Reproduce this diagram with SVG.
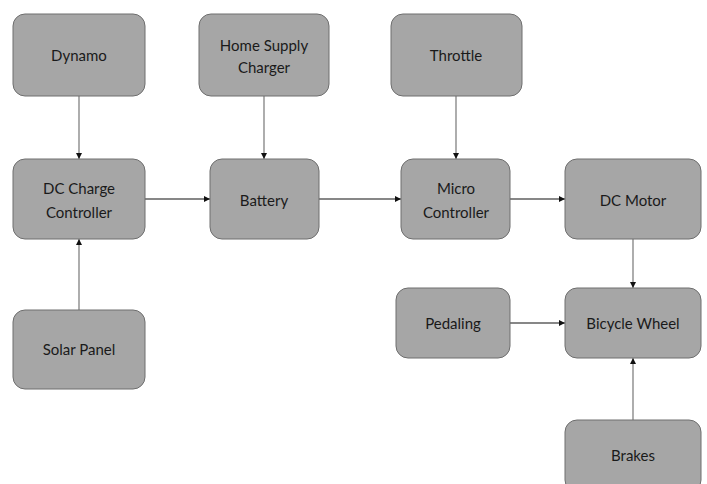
<svg xmlns="http://www.w3.org/2000/svg" width="707" height="484" viewBox="0 0 707 484">
<defs>
<marker id="ah" markerWidth="6" markerHeight="6" refX="6" refY="3" orient="auto" markerUnits="userSpaceOnUse">
<path d="M0,0 L6,3 L0,6 Z" fill="#111"/>
</marker>
<style>
.n rect{fill:#a6a6a6;stroke:#6e6e6e;stroke-width:1}
.n text{font-family:Lato,"Open Sans","Liberation Sans",sans-serif;font-size:15px;fill:#1a1a1a;text-anchor:middle;dominant-baseline:central}
.c line{stroke-width:1.2;marker-end:url(#ah)}
.v{stroke:#777}
.h{stroke:#111}
</style>
</defs>
<rect width="707" height="484" fill="#fff"/>
<g class="c" id="connectors">
<line class="v" x1="79" y1="96" x2="79" y2="159"/>
<line class="v" x1="264" y1="96" x2="264" y2="159"/>
<line class="v" x1="79" y1="310" x2="79" y2="239"/>
<line class="h" x1="145" y1="199" x2="210" y2="199"/>
<line class="h" x1="319" y1="199" x2="401" y2="199"/>
<line class="v" x1="456" y1="96" x2="456" y2="159"/>
<line class="h" x1="510" y1="199" x2="565" y2="199"/>
<line class="v" x1="633" y1="239" x2="633" y2="288"/>
<line class="h" x1="510" y1="323" x2="565" y2="323"/>
<line class="v" x1="633" y1="420" x2="633" y2="358"/>
</g>
<g class="n" id="dynamo"><rect x="13" y="14" width="132" height="82" rx="12"/><text x="79" y="55">Dynamo</text></g>
<g class="n" id="home"><rect x="199" y="14" width="130" height="82" rx="12"/><text x="264" y="45">Home Supply</text><text x="264" y="67">Charger</text></g>
<g class="n" id="throttle"><rect x="391" y="14" width="131" height="82" rx="12"/><text x="456" y="55">Throttle</text></g>
<g class="n" id="dccharge"><rect x="13" y="159" width="132" height="80" rx="12"/><text x="79" y="188">DC Charge</text><text x="79" y="212">Controller</text></g>
<g class="n" id="battery"><rect x="210" y="159" width="109" height="80" rx="12"/><text x="264" y="200">Battery</text></g>
<g class="n" id="micro"><rect x="401" y="159" width="109" height="80" rx="12"/><text x="456" y="188">Micro</text><text x="456" y="212">Controller</text></g>
<g class="n" id="dcmotor"><rect x="565" y="159" width="136" height="80" rx="12"/><text x="633" y="200">DC Motor</text></g>
<g class="n" id="solar"><rect x="13" y="310" width="132" height="79" rx="12"/><text x="79" y="349">Solar Panel</text></g>
<g class="n" id="pedaling"><rect x="396" y="288" width="114" height="70" rx="12"/><text x="453" y="323">Pedaling</text></g>
<g class="n" id="wheel"><rect x="565" y="288" width="136" height="70" rx="12"/><text x="633" y="323">Bicycle Wheel</text></g>
<g class="n" id="brakes"><rect x="565" y="420" width="136" height="72" rx="12"/><text x="633" y="455">Brakes</text></g>
</svg>
